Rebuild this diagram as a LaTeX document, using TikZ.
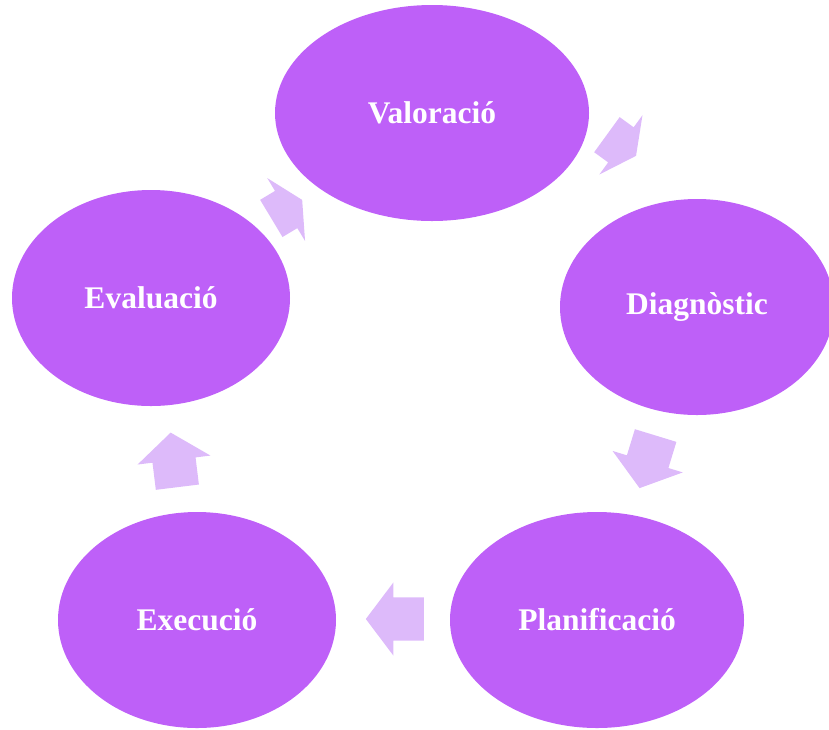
\documentclass[tikz,border=0pt]{standalone}
\usepackage{fontspec}
\setmainfont{Liberation Serif}
\usetikzlibrary{shapes.geometric,shapes.arrows}

\definecolor{stagefill}{RGB}{190,96,248}
\definecolor{flowfill}{RGB}{221,186,250}

\tikzset{
	stage/.style={ellipse, fill=stagefill, text=white, inner sep=0pt,
		minimum height=216pt, font=\bfseries\fontsize{31.5}{36}\selectfont},
	flow/.style={single arrow, fill=flowfill, inner xsep=0pt, inner ysep=21.5pt,
		single arrow head extend=15pt, single arrow tip angle=106}
}

\begin{document}
\begin{tikzpicture}[x=1pt, y=-1pt]
	\useasboundingbox (0,0) rectangle (829,729);
	
	% the five stages
	\node[stage, minimum width=314pt] (val) at (432,113) {Valoració};
	\node[stage, minimum width=274pt] (diag) at (697,307) {Diagnòstic};
	\node[stage, minimum width=294pt] (plan) at (597,620) {Planificació};
	\node[stage, minimum width=278pt] (exec) at (197,620) {Execució};
	\node[stage, minimum width=278pt] (aval) at (151,298) {Evaluació};
	
	% arrows between them
	\node[flow, minimum height=36pt, single arrow tip angle=126, rotate=-36] (f1) at (617,142) {};
	\node[flow, minimum height=55pt, rotate=-107] (f2) at (650,454) {};
	\node[flow, minimum height=58pt, rotate=180] (f3) at (403,619) {};
	\node[flow, minimum height=55pt, rotate=97] (f4) at (175,468) {};
	\node[flow, minimum height=36pt, single arrow tip angle=126, rotate=31] (f5) at (282,212) {};
\end{tikzpicture}
\end{document}
